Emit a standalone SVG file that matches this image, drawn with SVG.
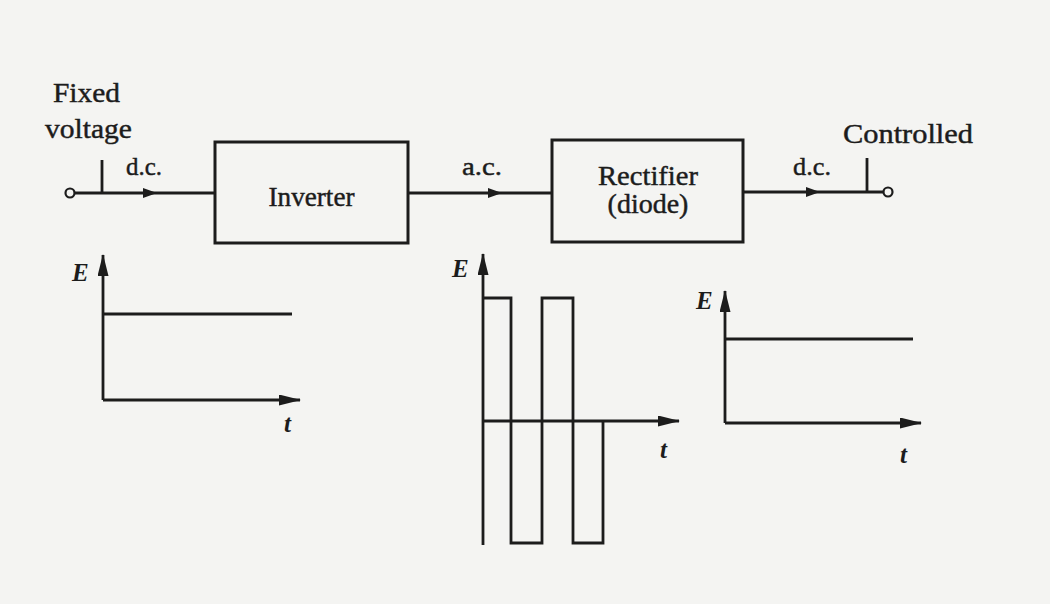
<svg xmlns="http://www.w3.org/2000/svg" width="1050" height="604" viewBox="0 0 1050 604">
<style>
.lbl{font-family:"Liberation Serif","Times New Roman",serif;font-size:28px;fill:#1c1c1c;stroke:#1c1c1c;stroke-width:0.45}
.sm{font-family:"Liberation Serif","Times New Roman",serif;font-size:26px;fill:#1c1c1c;stroke:#1c1c1c;stroke-width:0.45}
.ax{font-family:"Liberation Serif","Times New Roman",serif;font-size:25px;font-style:italic;font-weight:bold;fill:#1c1c1c}
.ln{stroke:#1c1c1c;stroke-width:2.8;fill:none}
.box{stroke:#1c1c1c;stroke-width:3;fill:none}
.ar{fill:#1c1c1c}
</style>
<defs>
<marker id="ah" markerWidth="22" markerHeight="11" refX="21" refY="5.5" orient="auto" markerUnits="userSpaceOnUse">
<path d="M0,0 L22,5.5 L0,11 Z" fill="#1c1c1c"/>
</marker>
</defs>
<rect x="0" y="0" width="1050" height="604" fill="#f4f4f2"/>

<g id="label-fixed">
<text class="lbl" x="53" y="102" textLength="67" lengthAdjust="spacingAndGlyphs">Fixed</text>
<text class="lbl" x="45" y="138" textLength="87" lengthAdjust="spacingAndGlyphs">voltage</text>
</g>
<g id="label-controlled">
<text class="lbl" x="843" y="143" textLength="130" lengthAdjust="spacingAndGlyphs">Controlled</text>
</g>

<g id="terminal-in">
<circle cx="70" cy="193" r="4.5" fill="#f4f4f2" stroke="#1c1c1c" stroke-width="2.2"/>
<line class="ln" x1="102" y1="160" x2="102" y2="193"/>
</g>
<g id="terminal-out">
<circle cx="888" cy="192" r="4.5" fill="#f4f4f2" stroke="#1c1c1c" stroke-width="2.2"/>
<line class="ln" x1="867" y1="158" x2="867" y2="192"/>
</g>

<g id="inverter">
<rect class="box" x="215" y="142" width="193" height="101"/>
<text class="lbl" x="311.5" y="206" text-anchor="middle" textLength="86" lengthAdjust="spacingAndGlyphs">Inverter</text>
</g>
<g id="rectifier">
<rect class="box" x="552" y="140" width="191" height="102"/>
<text class="lbl" x="648" y="185" text-anchor="middle" textLength="100" lengthAdjust="spacingAndGlyphs">Rectifier</text>
<text class="lbl" x="648" y="213" text-anchor="middle">(diode)</text>
</g>

<g id="connectors">
<line class="ln" x1="74.5" y1="193" x2="215" y2="193"/>
<path class="ar" d="M143,188 L157,193 L143,198 Z"/>
<text class="sm" x="126" y="175" textLength="36" lengthAdjust="spacingAndGlyphs">d.c.</text>
<line class="ln" x1="408" y1="193" x2="552" y2="193"/>
<path class="ar" d="M488,188 L502,193 L488,198 Z"/>
<text class="sm" x="462" y="175" textLength="40" lengthAdjust="spacingAndGlyphs">a.c.</text>
<line class="ln" x1="743" y1="192" x2="883.5" y2="192"/>
<path class="ar" d="M806,187 L820,192 L806,197 Z"/>
<text class="sm" x="793" y="175" textLength="38" lengthAdjust="spacingAndGlyphs">d.c.</text>
</g>

<g id="graph-input">
<line class="ln" x1="103" y1="400" x2="103" y2="255" marker-end="url(#ah)"/>
<line class="ln" x1="103" y1="400" x2="300" y2="400" marker-end="url(#ah)"/>
<line class="ln" x1="103" y1="314" x2="292" y2="314"/>
<text class="ax" x="72" y="281">E</text>
<text class="ax" x="284" y="432">t</text>
</g>

<g id="graph-ac">
<line class="ln" x1="483" y1="545" x2="483" y2="254" marker-end="url(#ah)"/>
<line class="ln" x1="483" y1="421" x2="679" y2="421" marker-end="url(#ah)"/>
<path class="ln" d="M483,298 H511 V543 H542 V298 H573 V543 H603 V421"/>
<text class="ax" x="452" y="277">E</text>
<text class="ax" x="660" y="458">t</text>
</g>

<g id="graph-output">
<line class="ln" x1="725" y1="423" x2="725" y2="291" marker-end="url(#ah)"/>
<line class="ln" x1="725" y1="423" x2="921" y2="423" marker-end="url(#ah)"/>
<line class="ln" x1="725" y1="339" x2="913" y2="339"/>
<text class="ax" x="696" y="309">E</text>
<text class="ax" x="900" y="463">t</text>
</g>
</svg>
